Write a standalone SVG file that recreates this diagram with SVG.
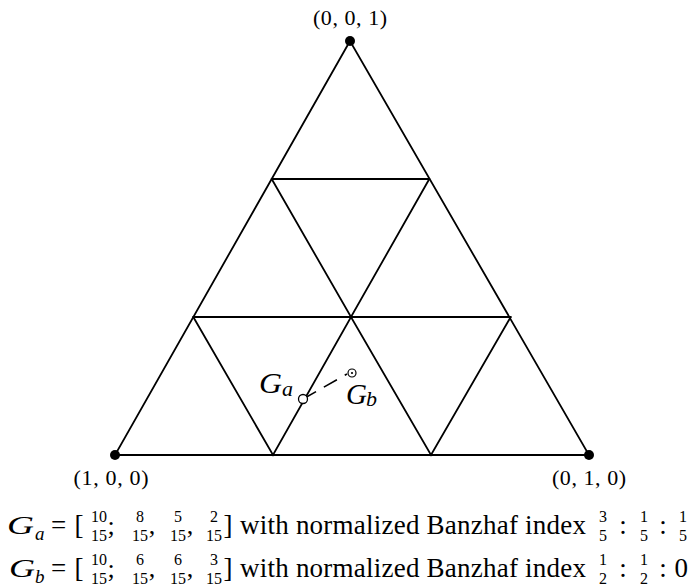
<svg xmlns="http://www.w3.org/2000/svg" width="689" height="588" viewBox="0 0 689 588">
<style>
.ln{stroke:#000;stroke-width:1.8;fill:none;stroke-linecap:round}
.t{font-family:"Liberation Serif","Times New Roman",serif;fill:#000}
.it{font-style:italic}
.fr{font-family:"Liberation Serif","Times New Roman",serif;font-size:16px;text-anchor:middle;fill:#000}
.m{text-anchor:middle}
</style>
<rect width="689" height="588" fill="#fff"/>
<g id="connectors">
<path class="ln" d="M350,41 L115,455 L589,455 Z"/>
<path class="ln" d="M271.7,179 L429.3,179"/>
<path class="ln" d="M193.3,317 L510.7,317"/>
<path class="ln" d="M271.7,179 L351,317 L429.3,179"/>
<path class="ln" d="M193.3,317 L273,455 L351,317 L431,455 L510.7,317"/>
<line x1="303" y1="399" x2="347" y2="374" stroke="#000" stroke-width="1.6" stroke-dasharray="15 9"/>
</g>
<g id="v001">
<circle cx="350" cy="41" r="5"/>
<text class="t m" x="350" y="25" font-size="22" textLength="74">(0, 0, 1)</text>
</g>
<g id="v100">
<circle cx="115" cy="455" r="5"/>
<text class="t m" x="111" y="485" font-size="22" textLength="75">(1, 0, 0)</text>
</g>
<g id="v010">
<circle cx="589" cy="455" r="5"/>
<text class="t m" x="589" y="485" font-size="22" textLength="74">(0, 1, 0)</text>
</g>
<g id="Ga">
<circle cx="303" cy="399" r="4.5" fill="#fff" stroke="#000" stroke-width="1.3"/>
<text class="t it" x="259" y="393" font-size="30" textLength="23" lengthAdjust="spacingAndGlyphs">G</text>
<text class="t it" x="282" y="396" font-size="22">a</text>
</g>
<g id="Gb">
<circle cx="352" cy="373" r="4" fill="#fff" stroke="#000" stroke-width="1.2"/>
<circle cx="352" cy="373" r="1.1" fill="#000"/>
<text class="t it" x="346" y="404" font-size="29" textLength="21" lengthAdjust="spacingAndGlyphs">G</text>
<text class="t it" x="366" y="406" font-size="22">b</text>
</g>
<g id="formulaA">
<text class="t it" x="7" y="534" font-size="26" textLength="27" lengthAdjust="spacingAndGlyphs">G</text>
<text class="t it" x="35" y="540" font-size="19">a</text>
<text class="t m" x="58.5" y="534" font-size="27">=</text>
<text class="t m" x="79" y="534" font-size="27">[</text>
<text class="fr" x="99" y="522">10</text><text class="fr" x="99" y="541">15</text>
<text class="t m" x="111" y="534" font-size="26">;</text>
<text class="fr" x="140" y="522">8</text><text class="fr" x="140" y="541">15</text>
<text class="t m" x="152" y="534" font-size="26">,</text>
<text class="fr" x="178" y="522">5</text><text class="fr" x="178" y="541">15</text>
<text class="t m" x="190" y="534" font-size="26">,</text>
<text class="fr" x="214" y="522">2</text><text class="fr" x="214" y="541">15</text>
<text class="t m" x="228" y="534" font-size="27">]</text>
<text class="t" x="240" y="534" font-size="27" textLength="346">with normalized Banzhaf index</text>
<text class="fr" x="603" y="522">3</text><text class="fr" x="603" y="541">5</text>
<text class="t m" x="623" y="534" font-size="27">:</text>
<text class="fr" x="644" y="522">1</text><text class="fr" x="644" y="541">5</text>
<text class="t m" x="663" y="534" font-size="27">:</text>
<text class="fr" x="683" y="522">1</text><text class="fr" x="683" y="541">5</text>
</g>
<g id="formulaB">
<text class="t it" x="9" y="577" font-size="26" textLength="26" lengthAdjust="spacingAndGlyphs">G</text>
<text class="t it" x="35" y="583" font-size="19">b</text>
<text class="t m" x="58.5" y="577" font-size="27">=</text>
<text class="t m" x="79" y="577" font-size="27">[</text>
<text class="fr" x="99" y="565">10</text><text class="fr" x="99" y="584">15</text>
<text class="t m" x="111" y="577" font-size="26">;</text>
<text class="fr" x="140" y="565">6</text><text class="fr" x="140" y="584">15</text>
<text class="t m" x="152" y="577" font-size="26">,</text>
<text class="fr" x="178" y="565">6</text><text class="fr" x="178" y="584">15</text>
<text class="t m" x="190" y="577" font-size="26">,</text>
<text class="fr" x="214" y="565">3</text><text class="fr" x="214" y="584">15</text>
<text class="t m" x="228" y="577" font-size="27">]</text>
<text class="t" x="240" y="577" font-size="27" textLength="346">with normalized Banzhaf index</text>
<text class="fr" x="603" y="565">1</text><text class="fr" x="603" y="584">2</text>
<text class="t m" x="623" y="577" font-size="27">:</text>
<text class="fr" x="644" y="565">1</text><text class="fr" x="644" y="584">2</text>
<text class="t m" x="663" y="577" font-size="27">:</text>
<text class="t" x="688" y="577" font-size="27" text-anchor="end">0</text>
</g>
</svg>
